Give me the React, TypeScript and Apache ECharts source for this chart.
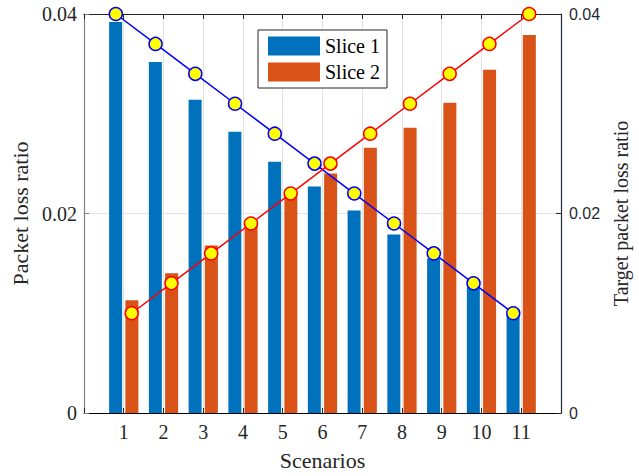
import React, { useEffect, useRef } from "react";
import * as echarts from "echarts";

const categories = ["1", "2", "3", "4", "5", "6", "7", "8", "9", "10", "11"];
const slice1 = [0.0392, 0.0352, 0.0314, 0.0282, 0.0252, 0.0227, 0.0203, 0.0179, 0.0155, 0.0126, 0.0098];
const slice2 = [0.0113, 0.014, 0.0168, 0.0193, 0.0216, 0.024, 0.0266, 0.0286, 0.0311, 0.0344, 0.0379];
const target1 = [0.04, 0.037, 0.034, 0.031, 0.028, 0.025, 0.022, 0.019, 0.016, 0.013, 0.01];
const target2 = [0.01, 0.013, 0.016, 0.019, 0.022, 0.025, 0.028, 0.031, 0.034, 0.037, 0.04];
const yTicks = [0, 0.02, 0.04];

const SERIF = '"Liberation Serif", "Times New Roman", serif';
const SANS = '"Liberation Sans", Arial, sans-serif';
const BAR_W = 13;
const BAR_GAP = "25%";
// offset of each bar's centre from its category, in axis units (bar layout: ±8px over ~39.8px/unit)
const LINE_OFFSET = 0.2;

export default function App() {
  const ref = useRef<HTMLDivElement>(null);
  useEffect(() => {
    if (!ref.current) return;
    const chart = echarts.init(ref.current, undefined, { renderer: "svg" });
    const xy = (arr: number[], dx: number) => arr.map((v, i) => [i + 1 + dx, v]);
    const gridLine = { show: true, lineStyle: { color: "#e3e3e3", width: 1 } };
    chart.setOption({
      animation: false,
      backgroundColor: "#ffffff",
      grid: { left: 84, right: 78, top: 14, bottom: 62, containLabel: false },
      legend: {
        data: ["Slice 1", "Slice 2"],
        orient: "vertical",
        left: 258,
        top: 30,
        icon: "rect",
        itemWidth: 52,
        itemHeight: 19,
        itemGap: 6,
        padding: [6, 7, 6, 10],
        borderColor: "#262626",
        borderWidth: 1,
        backgroundColor: "#ffffff",
        textStyle: { fontFamily: SERIF, fontSize: 20, color: "#000" },
      },
      xAxis: [
        {
          type: "value",
          position: "bottom",
          min: 0,
          max: 12,
          interval: 1,
          name: "Scenarios",
          nameLocation: "middle",
          nameGap: 36,
          nameTextStyle: { fontFamily: SERIF, fontSize: 22, color: "#262626" },
          axisLine: { show: true, onZero: false, lineStyle: { color: "#000", width: 1.2 } },
          axisTick: { show: true, inside: true, length: 5, lineStyle: { color: "#262626" } },
          axisLabel: {
            fontFamily: SERIF,
            fontSize: 20,
            color: "#262626",
            margin: 9,
            formatter: (v: number) => (v >= 1 && v <= categories.length ? categories[v - 1] : ""),
          },
          splitLine: gridLine,
        },
        {
          type: "value",
          position: "top",
          min: 0,
          max: 12,
          interval: 1,
          axisLine: { show: true, onZero: false, lineStyle: { color: "#262626", width: 1 } },
          axisTick: { show: true, inside: true, length: 5, lineStyle: { color: "#262626" } },
          axisLabel: { show: false },
          splitLine: { show: false },
        },
      ],
      yAxis: [
        {
          type: "value",
          position: "left",
          min: yTicks[0],
          max: yTicks[yTicks.length - 1],
          interval: yTicks[1] - yTicks[0],
          name: "Packet loss ratio",
          nameLocation: "middle",
          nameRotate: 90,
          nameGap: 50,
          nameTextStyle: { fontFamily: SERIF, fontSize: 22, color: "#262626" },
          axisLine: { show: true, onZero: false, lineStyle: { color: "#808080", width: 1.2 } },
          axisTick: { show: true, inside: true, length: 5, lineStyle: { color: "#808080" } },
          axisLabel: { fontFamily: SERIF, fontSize: 20, color: "#262626", margin: 7 },
          splitLine: gridLine,
        },
        {
          type: "value",
          position: "right",
          min: yTicks[0],
          max: yTicks[yTicks.length - 1],
          interval: yTicks[1] - yTicks[0],
          name: "Target packet loss ratio",
          nameLocation: "middle",
          nameRotate: 90,
          nameGap: 46,
          nameTextStyle: { fontFamily: SERIF, fontSize: 20, color: "#262626" },
          axisLine: { show: true, onZero: false, lineStyle: { color: "#1f2a36", width: 1.2 } },
          axisTick: { show: true, inside: true, length: 5, lineStyle: { color: "#1f2a36" } },
          axisLabel: { fontFamily: SANS, fontSize: 16, color: "#1f2a36", margin: 8 },
          splitLine: { show: false },
        },
      ],
      series: [
        {
          name: "Slice 1",
          type: "bar",
          xAxisIndex: 0,
          yAxisIndex: 0,
          barWidth: BAR_W,
          barGap: BAR_GAP,
          data: xy(slice1, 0),
          itemStyle: { color: "#0072BD" },
        },
        {
          name: "Slice 2",
          type: "bar",
          xAxisIndex: 0,
          yAxisIndex: 0,
          barWidth: BAR_W,
          barGap: BAR_GAP,
          data: xy(slice2, 0),
          itemStyle: { color: "#D95319" },
        },
        {
          name: "Target 1",
          type: "line",
          xAxisIndex: 0,
          yAxisIndex: 1,
          data: xy(target1, -LINE_OFFSET),
          symbol: "circle",
          symbolSize: 13,
          lineStyle: { color: "#0000ff", width: 1.5 },
          itemStyle: { color: "#ffff00", borderColor: "#0000ff", borderWidth: 1.5 },
          z: 3,
        },
        {
          name: "Target 2",
          type: "line",
          xAxisIndex: 0,
          yAxisIndex: 1,
          data: xy(target2, LINE_OFFSET),
          symbol: "circle",
          symbolSize: 13,
          lineStyle: { color: "#ff0000", width: 1.5 },
          itemStyle: { color: "#ffff00", borderColor: "#ff0000", borderWidth: 1.5 },
          z: 4,
        },
      ],
    });
    return () => chart.dispose();
  }, []);
  return (
    <div
      ref={ref}
      style={{ position: "fixed", left: 0, top: 0, width: 639, height: 476, background: "#fff" }}
    />
  );
}
